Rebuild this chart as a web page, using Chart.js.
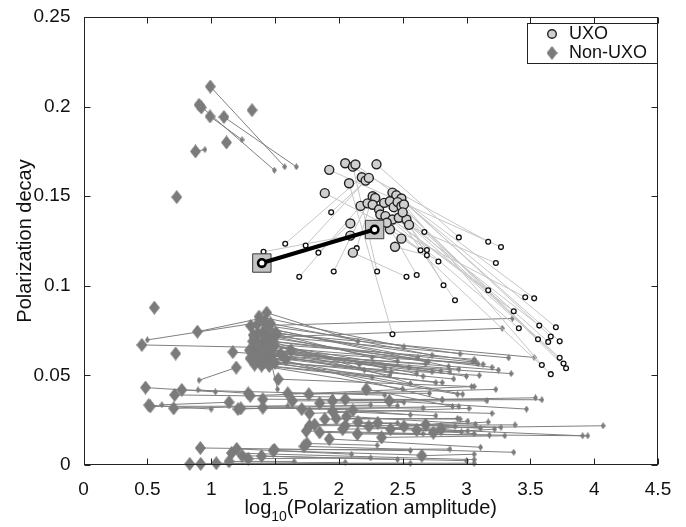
<!DOCTYPE html>
<html>
<head>
<meta charset="utf-8">
<script src="https://cdn.jsdelivr.net/npm/chart.js@4.4.1/dist/chart.umd.min.js"></script>
<style>
  html, body { margin: 0; padding: 0; background: #fff; }
  #wrap { width: 686px; height: 527px; }
</style>
</head>
<body>
<div id="wrap"><canvas id="decayChart" width="686" height="527"></canvas></div>
<script>
// axis ticks
const xTicks = [0, 0.5, 1, 1.5, 2, 2.5, 3, 3.5, 4, 4.5];
const xTickLabels = ['0', '0.5', '1', '1.5', '2', '2.5', '3', '3.5', '4', '4.5'];
const yTicks = [0, 0.05, 0.1, 0.15, 0.2, 0.25];
const yTickLabels = ['0', '0.05', '0.1', '0.15', '0.2', '0.25'];

// UXO: big circle (first estimate) -> small circle (second estimate), paired by index
const uxoStart = [
  [1.925, 0.1647], [2.05, 0.1684], [2.295, 0.1678], [2.11, 0.1665], [2.08, 0.1572],
  [2.18, 0.1606], [2.21, 0.1587], [2.235, 0.1602], [2.09, 0.1348], [2.09, 0.128],
  [2.17, 0.1446], [2.225, 0.146], [2.265, 0.150], [2.13, 0.1677], [1.89, 0.1517],
  [2.285, 0.149], [2.42, 0.152], [2.45, 0.1505], [2.49, 0.1487], [2.265, 0.1452],
  [2.315, 0.1426], [2.355, 0.1463], [2.40, 0.1472], [2.43, 0.1439], [2.46, 0.1467],
  [2.49, 0.1444], [2.51, 0.1454], [2.325, 0.1398], [2.365, 0.1389], [2.42, 0.137],
  [2.47, 0.138], [2.53, 0.137], [2.40, 0.1315], [2.49, 0.1263], [2.44, 0.1218],
  [2.11, 0.1185], [2.375, 0.1352], [2.55, 0.134], [2.50, 0.141]
];
const uxoEnd = [
  [3.27, 0.1216], [3.17, 0.1246], [2.94, 0.127], [2.30, 0.108], [2.42, 0.073],
  [1.58, 0.1235], [1.74, 0.1225], [1.94, 0.141], [1.84, 0.1185], [1.41, 0.119],
  [1.69, 0.105], [1.96, 0.108], [2.14, 0.121], [3.53, 0.093], [3.46, 0.0936],
  [3.57, 0.0778], [3.70, 0.0769], [3.73, 0.069], [3.66, 0.0717], [3.41, 0.0763],
  [3.37, 0.0858], [3.56, 0.0702], [3.64, 0.0687], [3.73, 0.0598], [3.76, 0.0566],
  [3.78, 0.054], [3.59, 0.0558], [3.66, 0.0507], [3.23, 0.1127], [3.17, 0.0975],
  [2.91, 0.0919], [2.82, 0.1003], [2.78, 0.1136], [2.64, 0.1198], [2.69, 0.117],
  [2.53, 0.105], [2.61, 0.106], [2.69, 0.120], [2.67, 0.130]
];

// highlighted UXO item
const markedStart = [[1.397, 0.1127]];
const markedEnd = [[2.28, 0.1314]];

// Non-UXO: big diamond -> small diamond, paired by index
const nonUxoStart = [
  [0.993, 0.2112], [0.905, 0.201], [0.991, 0.1945], [1.10, 0.1942], [0.923, 0.1995],
  [1.32, 0.198], [1.12, 0.180], [0.877, 0.175], [0.73, 0.1495],
  [0.555, 0.0878], [0.457, 0.067], [1.42, 0.080], [0.722, 0.0622], [0.892, 0.0744],
  [1.196, 0.0544], [0.486, 0.0432], [0.77, 0.0419], [0.714, 0.0391], [0.511, 0.0334],
  [0.523, 0.0327], [0.706, 0.0316], [1.21, 0.0312], [1.232, 0.0316], [1.29, 0.0400],
  [1.14, 0.0350], [1.60, 0.0400], [1.85, 0.0345],
  [1.31, 0.0776], [1.34, 0.071], [1.435, 0.085], [1.375, 0.0828], [1.465, 0.079],
  [1.405, 0.074], [1.445, 0.072], [1.355, 0.068], [1.395, 0.066], [1.485, 0.069],
  [1.425, 0.064], [1.385, 0.062], [1.455, 0.063], [1.335, 0.065], [1.415, 0.0572],
  [1.455, 0.0553], [1.44, 0.066], [1.405, 0.060], [1.475, 0.061], [1.365, 0.0735],
  [1.435, 0.0765], [1.495, 0.0665], [1.325, 0.069], [1.515, 0.073], [1.395, 0.0555],
  [1.305, 0.0595], [1.465, 0.0595], [1.345, 0.062], [1.505, 0.0739], [1.425, 0.070],
  [1.17, 0.063], [1.545, 0.062], [1.585, 0.059], [1.625, 0.064], [1.525, 0.0479],
  [1.36, 0.0785], [1.41, 0.0695], [1.33, 0.0725], [1.47, 0.0645], [1.38, 0.0585],
  [1.43, 0.0675], [1.30, 0.064], [1.50, 0.057], [1.37, 0.0665], [1.45, 0.076],
  [1.40, 0.063], [1.34, 0.056],
  [1.306, 0.0386], [1.765, 0.0395], [1.95, 0.0358], [2.05, 0.0367], [2.215, 0.0423],
  [2.395, 0.0358], [1.636, 0.0358], [1.71, 0.0312], [1.77, 0.0288], [1.405, 0.0367],
  [1.405, 0.032],
  [1.89, 0.0256], [1.98, 0.026], [2.06, 0.0271], [1.85, 0.0182], [1.925, 0.0145],
  [1.745, 0.019], [1.77, 0.0219], [2.03, 0.020], [2.05, 0.0219], [2.145, 0.0173],
  [2.335, 0.0154], [2.80, 0.020], [2.15, 0.024], [2.235, 0.0215], [2.305, 0.0235],
  [2.405, 0.020], [2.51, 0.0215], [2.61, 0.0195], [2.68, 0.0225], [2.74, 0.018],
  [1.95, 0.030], [2.11, 0.0305], [1.81, 0.0225],
  [0.915, 0.0095], [1.495, 0.0085], [1.727, 0.0104], [2.65, 0.0052], [1.16, 0.0067],
  [1.242, 0.0052], [1.485, 0.008], [0.832, 0.0006], [0.918, 0.0006], [1.04, 0.001],
  [1.14, 0.002], [1.29, 0.0035], [1.20, 0.009], [1.395, 0.005], [1.75, 0.012]
];
const nonUxoEnd = [
  [1.576, 0.1664], [1.495, 0.1645], [1.242, 0.1815], [1.667, 0.1664], [0.923, 0.1995],
  [1.32, 0.198], [1.12, 0.180], [0.951, 0.176], [0.73, 0.1495],
  [0.555, 0.0878], [1.46, 0.0655], [0.50, 0.0698], [0.722, 0.0622], [1.38, 0.0817],
  [0.905, 0.0473], [1.033, 0.0408], [2.36, 0.039], [1.95, 0.038], [1.00, 0.0312],
  [2.46, 0.033], [1.60, 0.033], [2.25, 0.0335], [2.66, 0.0318], [0.897, 0.0419],
  [0.614, 0.0336], [2.71, 0.040], [2.51, 0.035],
  [3.36, 0.0818], [3.28, 0.0763], [2.15, 0.069], [2.51, 0.066], [2.73, 0.0613],
  [3.53, 0.060], [3.33, 0.0598], [3.06, 0.059], [3.13, 0.0562], [3.05, 0.0575],
  [3.09, 0.0565], [2.73, 0.052], [2.80, 0.0525], [2.87, 0.052], [2.76, 0.046],
  [2.81, 0.046], [1.52, 0.0423], [3.35, 0.051], [2.66, 0.0495], [2.46, 0.058],
  [2.86, 0.055], [2.36, 0.054], [2.61, 0.051], [2.26, 0.060], [2.26, 0.049],
  [2.93, 0.0395], [2.97, 0.0395], [2.81, 0.0364], [3.07, 0.058], [2.56, 0.0455],
  [2.94, 0.0535], [2.68, 0.0565], [2.41, 0.052], [2.16, 0.056], [3.04, 0.0438],
  [2.95, 0.062], [3.20, 0.0545], [2.70, 0.0575], [3.00, 0.0495], [2.90, 0.048],
  [2.55, 0.0545], [2.40, 0.050], [3.10, 0.050], [2.20, 0.053], [2.62, 0.060],
  [3.25, 0.053], [2.50, 0.0425],
  [3.06, 0.0438], [3.23, 0.0422], [3.54, 0.0375], [3.59, 0.0364], [2.89, 0.0327],
  [3.47, 0.0312], [3.16, 0.0358], [2.94, 0.0327], [3.02, 0.0316], [2.81, 0.0364],
  [3.20, 0.0288],
  [2.93, 0.026], [2.95, 0.0256], [3.07, 0.0228], [3.18, 0.0167], [3.11, 0.0099],
  [2.66, 0.0175], [3.38, 0.0224], [4.07, 0.0219], [3.91, 0.0163], [3.95, 0.0163],
  [3.30, 0.0163], [2.91, 0.0215], [3.11, 0.0205], [3.01, 0.019], [3.27, 0.021],
  [2.96, 0.0185], [3.17, 0.024], [3.06, 0.0175], [3.01, 0.0245], [3.22, 0.020],
  [2.76, 0.0275], [2.56, 0.028], [2.46, 0.0235],
  [2.56, 0.008], [2.87, 0.0089], [3.37, 0.0071], [3.06, 0.006], [3.06, 0.003],
  [3.00, 0.0024], [2.66, 0.0055], [2.56, 0.001], [2.05, 0.0015], [3.06, 0.001],
  [1.65, 0.002], [2.25, 0.004], [2.10, 0.006], [2.46, 0.003], [2.30, 0.011]
];

const FONT = "'Liberation Sans', Arial, sans-serif";

// diamond markers as small canvases (taller than wide, like the original)
function diamond(w, h, fill) {
  const c = document.createElement('canvas');
  c.width = w; c.height = h;
  const g = c.getContext('2d');
  g.fillStyle = fill;
  g.beginPath();
  g.moveTo(w / 2, 0); g.lineTo(w, h / 2); g.lineTo(w / 2, h); g.lineTo(0, h / 2);
  g.closePath();
  g.fill();
  return c;
}
const bigDiamond = diamond(11, 14, '#7b7b7b');
const smallDiamond = diamond(5, 7, '#7b7b7b');

const pts = arr => arr.map(p => ({ x: p[0], y: p[1] }));

// pairs -> one line dataset, broken by null points
function segments(a, b) {
  const out = [];
  a.forEach((p, i) => {
    out.push({ x: p[0], y: p[1] }, { x: b[i][0], y: b[i][1] }, { x: b[i][0], y: null });
  });
  return out;
}

const lineSet = (data, color, width, order) => ({
  data, showLine: true, spanGaps: false, pointRadius: 0,
  borderColor: color, borderWidth: width, order
});

// inward ticks, box, legend and axis titles
const framePlugin = {
  id: 'frame',
  afterDraw(chart) {
    const { ctx, chartArea: a, scales: { x, y } } = chart;
    ctx.save();
    ctx.strokeStyle = '#222';
    ctx.lineWidth = 1;
    const L = Math.round(a.left) + 0.5, R = Math.round(a.right) - 0.5;
    const T = Math.round(a.top) + 0.5, B = Math.round(a.bottom) - 0.5;
    ctx.strokeRect(L, T, R - L, B - T);
    ctx.beginPath();
    xTicks.forEach(v => {
      const px = Math.round(x.getPixelForValue(v)) + 0.5;
      ctx.moveTo(px, B); ctx.lineTo(px, B - 6);
      ctx.moveTo(px, T); ctx.lineTo(px, T + 6);
    });
    yTicks.forEach(v => {
      const py = Math.round(y.getPixelForValue(v)) + 0.5;
      ctx.moveTo(L, py); ctx.lineTo(L + 6, py);
      ctx.moveTo(R, py); ctx.lineTo(R - 6, py);
    });
    ctx.stroke();

    // legend box
    const lx = 527, ly = 23, lw = 131, lh = 41;
    ctx.fillStyle = '#fff';
    ctx.fillRect(lx, ly, lw, lh);
    ctx.strokeRect(lx + 0.5, ly + 0.5, lw - 1, lh - 1);
    ctx.beginPath();
    ctx.arc(552, 34, 4.3, 0, Math.PI * 2);
    ctx.fillStyle = '#cfcfcf';
    ctx.fill();
    ctx.lineWidth = 1.4;
    ctx.strokeStyle = '#222';
    ctx.stroke();
    ctx.drawImage(bigDiamond, 552 - 5.5, 53 - 7);
    ctx.fillStyle = '#111';
    ctx.font = '18px ' + FONT;
    ctx.textBaseline = 'middle';
    ctx.textAlign = 'left';
    ctx.fillText('UXO', 569, 34);
    ctx.fillText('Non-UXO', 569, 53);

    // x title with subscript
    const cx = (a.left + a.right) / 2;
    ctx.font = '20px ' + FONT;
    ctx.textBaseline = 'alphabetic';
    const w1 = ctx.measureText('log').width;
    const w3 = ctx.measureText('(Polarization amplitude)').width;
    ctx.font = '14px ' + FONT;
    const w2 = ctx.measureText('10').width;
    let sx = cx - (w1 + w2 + w3) / 2;
    ctx.font = '20px ' + FONT;
    ctx.fillText('log', sx, 514);
    ctx.font = '14px ' + FONT;
    ctx.fillText('10', sx + w1, 521);
    ctx.font = '20px ' + FONT;
    ctx.fillText('(Polarization amplitude)', sx + w1 + w2, 514);

    // y title
    ctx.translate(31, (a.top + a.bottom) / 2);
    ctx.rotate(-Math.PI / 2);
    ctx.textAlign = 'center';
    ctx.fillText('Polarization decay', 0, 0);
    ctx.restore();
  }
};

new Chart(document.getElementById('decayChart'), {
  type: 'scatter',
  data: {
    datasets: [
      lineSet(segments(nonUxoStart, nonUxoEnd), '#7f7f7f', 1, 9),
      { data: pts(nonUxoEnd), pointStyle: smallDiamond, order: 8, clip: false },
      { data: pts(nonUxoStart), pointStyle: bigDiamond, order: 7, clip: false },
      lineSet(segments(uxoStart, uxoEnd), '#c6c6c6', 1, 6),
      { data: pts(uxoEnd), pointStyle: 'circle', pointRadius: 2.4, pointBorderWidth: 1.3,
        pointBorderColor: '#111', pointBackgroundColor: '#fff', order: 5 },
      { data: pts(uxoStart), pointStyle: 'circle', pointRadius: 4.5, pointBorderWidth: 1.4,
        pointBorderColor: '#222', pointBackgroundColor: '#cfcfcf', order: 4 },
      { data: pts(markedStart.concat(markedEnd)), pointStyle: 'rect', pointRadius: 13,
        pointBorderWidth: 1, pointBorderColor: '#3a3a3a', pointBackgroundColor: '#c4c4c4', order: 3 },
      lineSet(segments(markedStart, markedEnd), '#000', 4, 2),
      { data: pts(markedStart.concat(markedEnd)), pointStyle: 'circle', pointRadius: 3.8,
        pointBorderWidth: 2.6, pointBorderColor: '#000', pointBackgroundColor: '#fff', order: 1 }
    ]
  },
  options: {
    responsive: false,
    animation: false,
    events: [],
    layout: { padding: { top: 17, right: 28, left: 0, bottom: 0 } },
    plugins: { legend: { display: false }, tooltip: { enabled: false } },
    scales: {
      x: {
        type: 'linear', min: 0, max: 4.5,
        grid: { display: false }, border: { display: false },
        afterBuildTicks: s => { s.ticks = xTicks.map(v => ({ value: v })); },
        afterFit: s => { s.height = 62; },
        ticks: {
          padding: 5, color: '#111', maxRotation: 0, autoSkip: false,
          font: { family: FONT, size: 19 },
          callback: (v, i) => xTickLabels[i]
        }
      },
      y: {
        type: 'linear', min: 0, max: 0.25,
        grid: { display: false }, border: { display: false },
        afterBuildTicks: s => { s.ticks = yTicks.map(v => ({ value: v })); },
        afterFit: s => { s.width = 83.5; },
        ticks: {
          padding: 5, color: '#111', autoSkip: false,
          font: { family: FONT, size: 19 },
          callback: (v, i) => yTickLabels[i]
        }
      }
    }
  },
  plugins: [framePlugin]
});
</script>
</body>
</html>
